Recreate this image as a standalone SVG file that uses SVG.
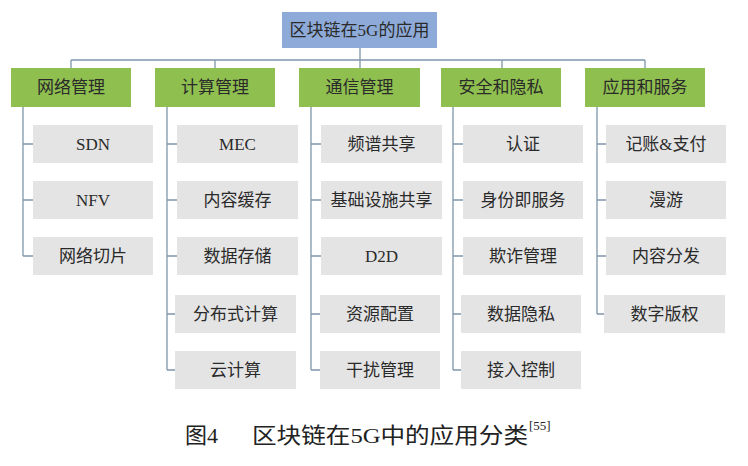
<svg xmlns="http://www.w3.org/2000/svg" width="748" height="466" viewBox="0 0 748 466">
<style>
.root{fill:#8eaad8}
.cat{fill:#8fbf4f}
.leaf{fill:#e4e4e4}
.t{font-family:"Liberation Serif","Noto Sans CJK SC",serif;font-size:17px;fill:#2a2a2a;text-anchor:middle;dominant-baseline:central}
.ln{stroke:#7f96aa;stroke-width:1.3;fill:none}
.cap{font-family:"Liberation Serif","Noto Sans CJK SC",serif;font-size:22px;fill:#222}
</style>
<rect width="748" height="466" fill="#fff"/>
<g id="connectors" class="ln">
<path d="M360 48V60M71 60H645M71 60V68M215 60V68M360 60V68M502 60V68M645 60V68"/>
<path d="M23 107V256M23 144H33M23 200H33M23 256H33"/>
<path d="M167 107V370M167 144H177M167 200H177M167 256H177M167 314H177M167 370H177"/>
<path d="M311 107V370M311 144H321M311 200H321M311 256H321M311 314H321M311 370H321"/>
<path d="M453 107V370M453 144H463M453 200H463M453 256H463M453 314H463M453 370H463"/>
<path d="M597 107V314M597 144H607M597 200H607M597 256H607M597 314H607"/>
</g>
<g id="root"><rect class="root" x="282" y="12" width="155" height="36"/><text class="t" x="359.5" y="30">区块链在5G的应用</text></g>
<g id="cat1"><rect class="cat" x="11" y="68" width="120" height="39"/><text class="t" x="71" y="87.5">网络管理</text></g>
<g id="cat2"><rect class="cat" x="155" y="68" width="120" height="39"/><text class="t" x="215" y="87.5">计算管理</text></g>
<g id="cat3"><rect class="cat" x="299" y="68" width="121" height="39"/><text class="t" x="359.5" y="87.5">通信管理</text></g>
<g id="cat4"><rect class="cat" x="441" y="68" width="120" height="39"/><text class="t" x="501" y="87.5">安全和隐私</text></g>
<g id="cat5"><rect class="cat" x="585" y="68" width="120" height="39"/><text class="t" x="645" y="87.5">应用和服务</text></g>
<g id="sdn"><rect class="leaf" x="33" y="125" width="120" height="38"/><text class="t" x="93" y="144">SDN</text></g>
<g id="nfv"><rect class="leaf" x="33" y="181" width="120" height="38"/><text class="t" x="93" y="200">NFV</text></g>
<g id="slice"><rect class="leaf" x="33" y="237" width="120" height="38"/><text class="t" x="93" y="256">网络切片</text></g>
<g id="mec"><rect class="leaf" x="177" y="125" width="121" height="38"/><text class="t" x="237.5" y="144">MEC</text></g>
<g id="cache"><rect class="leaf" x="177" y="181" width="121" height="38"/><text class="t" x="237.5" y="200">内容缓存</text></g>
<g id="storage"><rect class="leaf" x="177" y="237" width="121" height="38"/><text class="t" x="237.5" y="256">数据存储</text></g>
<g id="distcomp"><rect class="leaf" x="175" y="295" width="121" height="38"/><text class="t" x="235.5" y="314">分布式计算</text></g>
<g id="cloud"><rect class="leaf" x="175" y="351" width="121" height="38"/><text class="t" x="235.5" y="370">云计算</text></g>
<g id="spectrum"><rect class="leaf" x="321" y="125" width="121" height="38"/><text class="t" x="381.5" y="144">频谱共享</text></g>
<g id="infra"><rect class="leaf" x="321" y="181" width="121" height="38"/><text class="t" x="381.5" y="200">基础设施共享</text></g>
<g id="d2d"><rect class="leaf" x="321" y="237" width="121" height="38"/><text class="t" x="381.5" y="256">D2D</text></g>
<g id="resource"><rect class="leaf" x="320" y="295" width="120" height="38"/><text class="t" x="380" y="314">资源配置</text></g>
<g id="interf"><rect class="leaf" x="320" y="351" width="120" height="38"/><text class="t" x="380" y="370">干扰管理</text></g>
<g id="auth"><rect class="leaf" x="463" y="125" width="120" height="38"/><text class="t" x="523" y="144">认证</text></g>
<g id="idaas"><rect class="leaf" x="463" y="181" width="120" height="38"/><text class="t" x="523" y="200">身份即服务</text></g>
<g id="fraud"><rect class="leaf" x="463" y="237" width="120" height="38"/><text class="t" x="523" y="256">欺诈管理</text></g>
<g id="privacy"><rect class="leaf" x="461" y="295" width="120" height="38"/><text class="t" x="521" y="314">数据隐私</text></g>
<g id="access"><rect class="leaf" x="461" y="351" width="120" height="38"/><text class="t" x="521" y="370">接入控制</text></g>
<g id="billing"><rect class="leaf" x="606" y="125" width="120" height="38"/><text class="t" x="666" y="144">记账&amp;支付</text></g>
<g id="roaming"><rect class="leaf" x="606" y="181" width="120" height="38"/><text class="t" x="666" y="200">漫游</text></g>
<g id="cdn"><rect class="leaf" x="606" y="237" width="120" height="38"/><text class="t" x="666" y="256">内容分发</text></g>
<g id="drm"><rect class="leaf" x="604" y="295" width="121" height="38"/><text class="t" x="664.5" y="314">数字版权</text></g>
<g id="caption">
<text class="cap" x="185" y="443">图4</text>
<text class="cap" x="252" y="443" textLength="276" lengthAdjust="spacingAndGlyphs">区块链在5G中的应用分类</text>
<text class="cap" x="529" y="430" style="font-size:13px">[55]</text>
</g>
</svg>
